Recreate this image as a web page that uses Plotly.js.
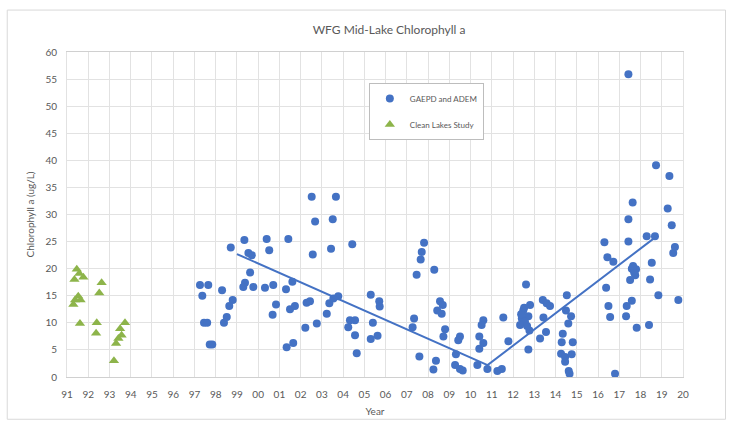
<!DOCTYPE html>
<html>
<head>
<meta charset="utf-8">
<script src="https://cdn.plot.ly/plotly-3.0.1.min.js"></script>
<style>
  html, body { margin: 0; padding: 0; background: #ffffff; }
  #chart { width: 730px; height: 428px; }
</style>
</head>
<body>
<div id="chart"></div>
<script>
// ---- Data ----
const tickYears = [1991,1992,1993,1994,1995,1996,1997,1998,1999,2000,2001,2002,2003,2004,2005,2006,2007,2008,2009,2010,2011,2012,2013,2014,2015,2016,2017,2018,2019,2020];
const tickLabels = ["91","92","93","94","95","96","97","98","99","00","01","02","03","04","05","06","07","08","09","10","11","12","13","14","15","16","17","18","19","20"];

// GAEPD and ADEM (blue circles)
const gaepdYear = [
  1997.26,1997.65,1997.37,1997.45,1997.60,1997.72,1997.84,
  1998.30,1998.80,1998.64,1998.52,1998.39,1998.71,
  1999.35,1999.54,1999.70,1999.62,1999.38,1999.30,1999.77,
  2000.40,2000.52,2000.32,2000.71,2000.84,2000.68,
  2001.42,2001.31,2001.61,2001.50,2001.73,2001.34,2001.65,
  2002.52,2002.68,2002.57,2002.28,2002.44,2002.22,2002.76,
  2003.66,2003.51,2003.43,2003.23,2003.35,2003.54,2003.77,
  2004.43,2004.32,2004.56,2004.24,2004.56,2004.64,
  2005.30,2005.70,2005.72,2005.40,2005.30,2005.62,
  2007.81,2007.70,2007.65,2007.46,2007.34,2007.27,2007.59,
  2008.29,2008.56,2008.69,2008.43,2008.64,2008.80,2008.72,2008.37,2008.25,
  2009.50,2009.42,2009.31,2009.27,2009.63,2009.50,
  2010.60,2010.52,2010.41,2010.60,2010.41,2010.32,2010.79,
  2011.26,2011.47,2011.54,2011.78,
  2012.61,2012.48,2012.72,2012.41,2012.56,2012.33,2012.80,2012.77,2012.72,2012.38,2012.52,2012.66,
  2013.40,2013.58,2013.43,2013.55,2013.27,2013.74,
  2014.53,2014.49,2014.73,2014.60,2014.34,2014.29,2014.81,2014.26,2014.45,2014.76,2014.45,2014.62,2014.66,
  2016.30,2016.44,2016.72,2016.38,2016.49,2016.57,2016.80,
  2017.43,2017.63,2017.43,2017.43,2017.59,2017.79,2017.75,2017.51,2017.59,2017.35,2017.32,2017.82,2017.70,2017.65,
  2018.73,2018.29,2018.68,2018.53,2018.45,2018.84,2018.40,
  2019.36,2019.28,2019.47,2019.62,2019.54,2019.78
];
const gaepdChl = [
  17.0,17.0,15.0,10.0,10.0,6.0,6.0,
  16.0,14.2,13.1,11.1,10.0,23.9,
  25.3,22.9,22.5,19.3,17.4,16.6,16.6,
  25.5,23.4,16.5,17.0,13.4,11.5,
  25.5,16.2,17.6,12.5,13.1,5.5,6.3,
  33.3,28.7,22.6,13.7,14.0,9.1,9.9,
  33.3,29.1,23.7,11.7,13.6,14.5,14.9,
  24.5,10.5,10.5,9.2,7.7,4.4,
  15.2,14.0,13.0,10.0,7.0,7.6,
  24.8,23.1,21.7,18.9,10.8,9.2,3.8,
  19.8,14.0,13.3,12.3,11.7,8.8,7.5,3.0,1.4,
  7.5,6.8,4.2,2.2,1.2,1.5,
  10.5,9.6,7.5,6.3,5.2,2.2,1.5,
  1.1,1.5,11.0,6.6,
  17.1,12.3,11.2,10.8,10.2,9.6,13.3,8.6,5.1,11.6,12.8,9.4,
  14.2,13.6,11.0,8.3,7.1,13.1,
  15.1,12.3,11.2,9.9,8.0,6.4,6.4,4.3,3.7,4.2,2.8,1.1,0.6,
  24.9,22.1,21.3,16.5,13.1,11.1,0.6,
  55.9,32.2,29.1,25.0,20.0,19.9,18.8,17.9,14.1,13.1,11.2,9.1,19.3,20.5,
  39.1,26.0,26.0,21.1,18.0,15.1,9.6,
  37.1,31.1,28.0,24.0,22.9,14.2
];

// Clean Lakes Study (green triangles)
const cleanYear = [1991.46,1991.58,1991.77,1991.35,1992.63,1992.52,1991.53,1991.38,1991.64,1991.30,1991.61,1992.40,1992.37,1993.73,1993.50,1993.57,1993.42,1993.31,1993.21];
const cleanChl  = [19.9,19.1,18.4,18.0,17.4,15.5,14.9,14.2,14.2,13.4,9.9,10.0,8.1,10.0,8.9,7.7,7.1,6.2,3.0];

// Piecewise trend line
const trendYear = [1999.0, 2010.8, 2018.8];
const trendChl  = [22.7, 2.2, 26.1];

// ---- Chart ----
const BLUE = '#4472c4';
const GREEN = '#8db44a';
const TXT = '#595959';
const GRID = '#e2e2e2';
const FONT = 'Lato, "Open Sans", sans-serif';

const traces = [
  {
    x: gaepdYear, y: gaepdChl, type: 'scatter', mode: 'markers',
    name: 'GAEPD and ADEM', legendgroup: 'a',
    marker: { color: BLUE, size: 8, symbol: 'circle' },
    hoverinfo: 'x+y'
  },
  {
    x: cleanYear, y: cleanChl, type: 'scatter', mode: 'markers',
    name: 'Clean Lakes Study', legendgroup: 'b',
    marker: { color: GREEN, size: 9, symbol: 'triangle-up' },
    hoverinfo: 'x+y'
  },
  {
    x: trendYear, y: trendChl, type: 'scatter', mode: 'lines',
    line: { color: BLUE, width: 2 }, showlegend: false, hoverinfo: 'skip'
  }
];

const layout = {
  width: 730, height: 428,
  margin: { l: 67, r: 47, t: 52, b: 51 },
  paper_bgcolor: '#ffffff', plot_bgcolor: '#ffffff',
  font: { family: FONT, size: 10, color: TXT },
  title: {
    text: 'WFG Mid-Lake Chlorophyll a',
    font: { family: FONT, size: 12, color: TXT },
    xref: 'container', x: 0.533, xanchor: 'center',
    yref: 'container', y: 0.93, yanchor: 'middle'
  },
  xaxis: {
    range: [1991, 2020],
    tickvals: tickYears, ticktext: tickLabels,
    showgrid: true, gridcolor: GRID, gridwidth: 1,
    zeroline: false, showline: true, linecolor: '#d0d0d0', mirror: true,
    ticks: '', ticklabelstandoff: 8,
    tickfont: { family: FONT, size: 10, color: TXT },
    title: { text: 'Year', font: { family: FONT, size: 10, color: TXT }, standoff: 8 }
  },
  yaxis: {
    range: [0, 60], dtick: 5, tick0: 0,
    showgrid: true, gridcolor: GRID, gridwidth: 1,
    zeroline: false, showline: true, linecolor: GRID, mirror: true,
    ticks: '', ticklabelstandoff: 7,
    tickfont: { family: FONT, size: 10, color: TXT },
    title: { text: 'Chlorophyll a (ug/L)', font: { family: FONT, size: 10, color: TXT }, standoff: 8 }
  },
  legend: {
    x: 0.49, xanchor: 'left', y: 0.905, yanchor: 'top',
    bgcolor: '#ffffff', bordercolor: '#bdbdbd', borderwidth: 1,
    font: { family: FONT, size: 8, color: TXT },
    traceorder: 'grouped', tracegroupgap: 7, itemwidth: 30
  },
  shapes: [
    { type: 'rect', xref: 'paper', yref: 'paper',
      x0: -0.097, x1: 1.069, y0: -0.13, y1: 1.129,
      line: { color: '#d9d9d9', width: 1 }, fillcolor: 'rgba(0,0,0,0)', layer: 'below' }
  ],
  showlegend: true
};

Plotly.newPlot('chart', traces, layout, { displayModeBar: false, staticPlot: true });
</script>
</body>
</html>
